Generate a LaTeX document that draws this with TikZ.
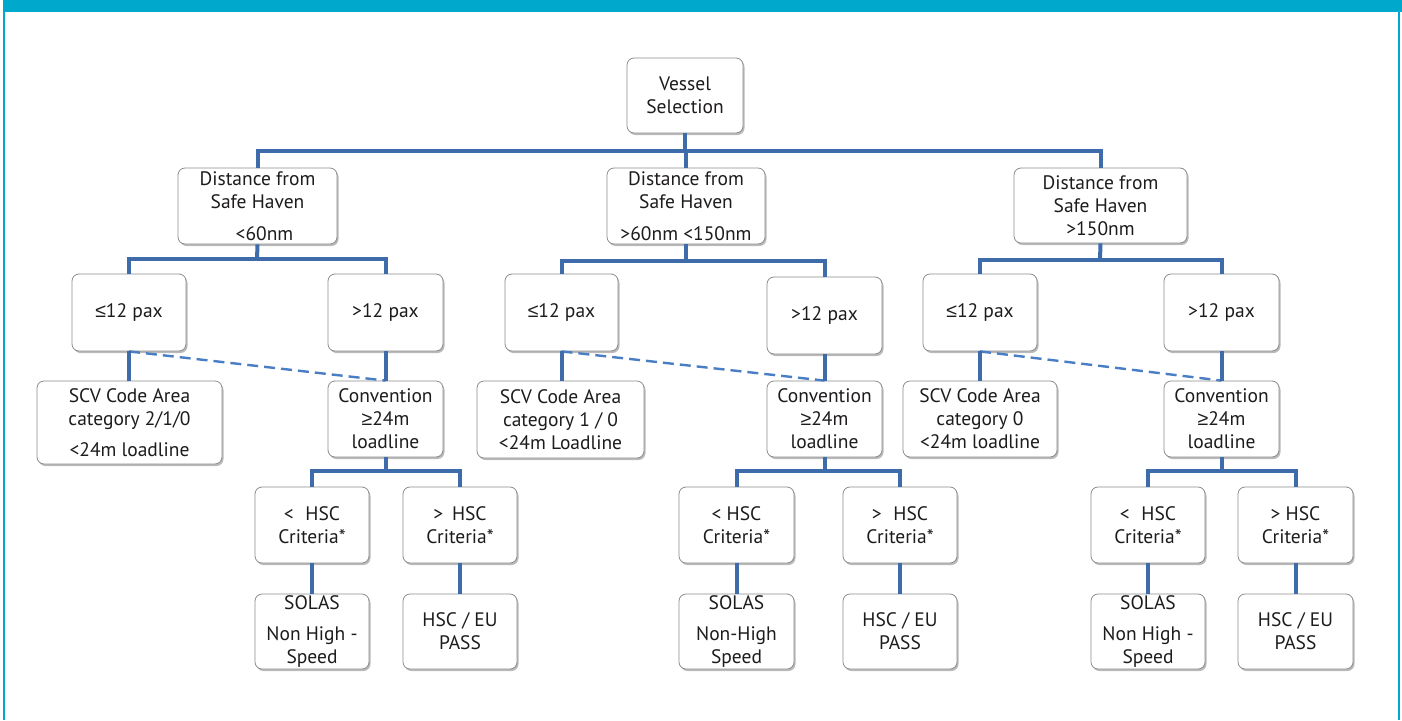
\documentclass[tikz,border=0pt]{standalone}
\usepackage{fontspec}
\setmainfont{PT Sans}
\newfontfamily\relfont{Liberation Sans}
\newcommand{\lessq}{{\relfont ≤}}
\newcommand{\moreq}{{\relfont ≥}}
\usetikzlibrary{shadows}
\definecolor{framecyan}{RGB}{0,168,204}
\definecolor{linkblue}{RGB}{62,108,170}
\definecolor{dashblue}{RGB}{74,126,196}
\definecolor{boxline}{RGB}{140,140,140}
\definecolor{ink}{RGB}{30,27,28}
\tikzset{
  box/.style={draw=boxline, line width=0.8pt, rounded corners=7pt, fill=white,
    align=center, inner sep=0pt, text=ink,
    font=\fontsize{19.5}{23}\selectfont,
    drop shadow={shadow xshift=1.5pt, shadow yshift=-2pt, fill=black!60, opacity=0.45}},
  conn/.style={draw=linkblue, line width=4pt},
  dconn/.style={draw=dashblue, line width=2.4pt, dash pattern=on 11pt off 6pt},
}
\begin{document}
\begin{tikzpicture}[x=1pt,y=-1pt]
\useasboundingbox (0,0) rectangle (1402,720);
% frame
\fill[framecyan] (3,0) rectangle (1402,12);
\fill[framecyan] (3,0) rectangle (5,720);
\fill[framecyan] (1398.2,12) rectangle (1399.8,720);

% root
\node[box, minimum width=116pt, minimum height=75pt] (vs) at (685,95.5) {Vessel\\Selection};

% distance level
\node[box, minimum width=159pt, minimum height=76pt] (d1) at (257.5,206) {Distance from\\Safe Haven\\[9pt]\hspace*{14pt}<60nm};
\node[box, minimum width=158pt, minimum height=76pt] (d2) at (686,206) {Distance from\\Safe Haven\\[9pt]>60nm <150nm};
\node[box, minimum width=173pt, minimum height=75pt] (d3) at (1100.5,205.5) {Distance from\\Safe Haven\\>150nm};

% passenger level
\node[box, minimum width=114pt, minimum height=77pt] (a1) at (129,312.5) {\lessq12 pax};
\node[box, minimum width=115pt, minimum height=77pt] (b1) at (385.5,312.5) {>12 pax};
\node[box, minimum width=113pt, minimum height=77pt] (a2) at (561.5,312.5) {\lessq12 pax};
\node[box, minimum width=115pt, minimum height=77pt] (b2) at (824.5,315.5) {>12 pax};
\node[box, minimum width=114pt, minimum height=77pt] (a3) at (980,312.5) {\lessq12 pax};
\node[box, minimum width=115pt, minimum height=77pt] (b3) at (1221.5,312.5) {>12 pax};

% code / convention level
\node[box, minimum width=185pt, minimum height=83pt] (s1) at (129.5,422.5) {SCV Code Area\\category 2/1/0\\[8pt]<24m loadline};
\node[box, minimum width=115pt, minimum height=76pt] (c1) at (385.5,419) {Convention\\\moreq24m\\loadline};
\node[box, minimum width=167pt, minimum height=77pt] (s2) at (560.5,419.5) {SCV Code Area\\category 1 / 0\\<24m Loadline};
\node[box, minimum width=115pt, minimum height=76pt] (c2) at (824.5,419) {Convention\\\moreq24m\\loadline};
\node[box, minimum width=154pt, minimum height=76pt] (s3) at (980,419) {SCV Code Area\\category 0\\<24m loadline};
\node[box, minimum width=115pt, minimum height=76pt] (c3) at (1221.5,419) {Convention\\\moreq24m\\loadline};

% HSC criteria level
\node[box, minimum width=114pt, minimum height=76pt] (h1) at (312,525) {<\hspace{0.6em}HSC\\Criteria*};
\node[box, minimum width=114pt, minimum height=76pt] (g1) at (460,525) {>\hspace{0.45em}HSC\\Criteria*};
\node[box, minimum width=115pt, minimum height=76pt] (h2) at (736.5,525) {< HSC\\Criteria*};
\node[box, minimum width=114pt, minimum height=76pt] (g2) at (900,525) {>\hspace{0.6em}HSC\\Criteria*};
\node[box, minimum width=114pt, minimum height=76pt] (h3) at (1148,525) {<\hspace{0.6em}HSC\\Criteria*};
\node[box, minimum width=115pt, minimum height=76pt] (g3) at (1295.5,525) {> HSC\\Criteria*};

% outcome level
\node[box, minimum width=114pt, minimum height=75pt] (p1) at (312,631.5) {SOLAS\\[8pt]Non High -\\Speed};
\node[box, minimum width=114pt, minimum height=75pt] (q1) at (460,631.5) {HSC / EU\\PASS};
\node[box, minimum width=115pt, minimum height=75pt] (p2) at (736.5,631.5) {SOLAS\\[8pt]Non-High\\Speed};
\node[box, minimum width=114pt, minimum height=75pt] (q2) at (900,631.5) {HSC / EU\\PASS};
\node[box, minimum width=114pt, minimum height=75pt] (p3) at (1148,631.5) {SOLAS\\[8pt]Non High -\\Speed};
\node[box, minimum width=115pt, minimum height=75pt] (q3) at (1295.5,631.5) {HSC / EU\\PASS};

% junction points of the bus lines
\coordinate (j0) at (685,151);
\coordinate (j1) at (257,259);
\coordinate (j2) at (686,261);
\coordinate (j3) at (1100,260);
\coordinate (k1) at (385.5,471);
\coordinate (k2) at (824.5,471);
\coordinate (k3) at (1221.5,471);

% root to distance
\draw[conn] (vs.south) -- (j0);
\draw[conn] (d1.north) |- (j0) -| (d3.north);
\draw[conn] (j0 -| d2.north) -- (d2.north);

% dashed cross links
\draw[dconn] (a1.south) -- (c1.north);
\draw[dconn] (a2.south) -- (c2.north);
\draw[dconn] (a3.south) -- (c3.north);

% distance to passengers, passengers to codes
\foreach \d/\a/\b/\j/\s/\c in {d1/a1/b1/j1/s1/c1, d2/a2/b2/j2/s2/c2, d3/a3/b3/j3/s3/c3}{
  \draw[conn] (\d.south) -- (\j);
  \draw[conn] (\a.north) |- (\j) -| (\b.north);
  \draw[conn] (\a.south) -- (\a.south |- \s.north);
  \draw[conn] (\b.south) -- (\c.north);
}

% convention to HSC criteria to outcomes
\foreach \c/\k/\h/\g/\p/\q in {c1/k1/h1/g1/p1/q1, c2/k2/h2/g2/p2/q2, c3/k3/h3/g3/p3/q3}{
  \draw[conn] (\c.south) -- (\k);
  \draw[conn] (\h.north) |- (\k) -| (\g.north);
  \draw[conn] (\h.south) -- (\p.north);
  \draw[conn] (\g.south) -- (\q.north);
}
\end{tikzpicture}
\end{document}
